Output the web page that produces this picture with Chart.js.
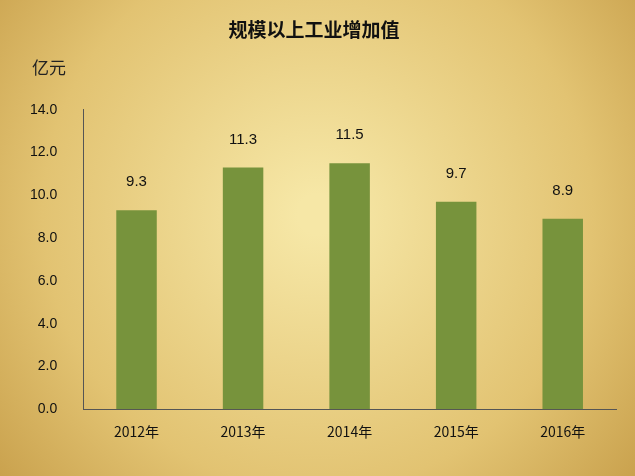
<!DOCTYPE html>
<html><head><meta charset="utf-8">
<script src="https://cdn.jsdelivr.net/npm/chart.js@4"></script>
<style>body{margin:0}canvas{display:block}</style>
</head><body>
<div style="width:635px;height:476px"><canvas id="c"></canvas></div>
<script>
var years = ['2012年', '2013年', '2014年', '2015年', '2016年'];
var values = [9.3, 11.3, 11.5, 9.7, 8.9];

var bgPlugin = {
  id: 'bg',
  beforeDraw: function (chart) {
    var ctx = chart.ctx, w = chart.width, h = chart.height;
    var g = ctx.createRadialGradient(w * 0.5, h * 0.45, 20, w * 0.5, h * 0.45, w * 0.7);
    g.addColorStop(0, '#f6e7a6');
    g.addColorStop(0.6, '#e2c372');
    g.addColorStop(1, '#c49a45');
    ctx.save();
    ctx.fillStyle = g;
    ctx.fillRect(0, 0, w, h);
    ctx.font = '17px "Noto Sans CJK SC"';
    ctx.fillStyle = '#222';
    ctx.fillText('亿元', 32, 74);
    ctx.restore();
  }
};

var labelPlugin = {
  id: 'lbl',
  afterDatasetsDraw: function (chart) {
    var ctx = chart.ctx;
    ctx.save();
    ctx.font = '15px "Liberation Sans"';
    ctx.fillStyle = '#111';
    ctx.textAlign = 'center';
    chart.getDatasetMeta(0).data.forEach(function (bar, i) {
      ctx.fillText(values[i].toFixed(1), bar.x, bar.y - 24);
    });
    ctx.restore();
  }
};

new Chart(document.getElementById('c'), {
  type: 'bar',
  data: {
    labels: years,
    datasets: [{ data: values, backgroundColor: '#77933c', barPercentage: 0.38, categoryPercentage: 1 }]
  },
  options: {
    responsive: true,
    maintainAspectRatio: false,
    animation: false,
    layout: { padding: { left: 12, right: 19, top: 0, bottom: 30 } },
    plugins: {
      legend: { display: false },
      tooltip: { enabled: false },
      title: {
        display: true, text: '规模以上工业增加值', color: '#111',
        font: { size: 19, weight: 'bold', family: '"Noto Sans CJK SC"' },
        padding: { top: 18, bottom: 69 }
      }
    },
    scales: {
      x: {
        grid: { display: false },
        border: { color: '#555' },
        ticks: { color: '#111', font: { size: 14, family: '"Noto Sans CJK SC"' }, padding: 6 }
      },
      y: {
        min: 0, max: 14,
        ticks: { stepSize: 2, color: '#111', padding: 18, font: { size: 14, family: '"Liberation Sans"' },
          callback: function (v) { return v.toFixed(1); } },
        grid: { display: false },
        border: { color: '#555' }
      }
    }
  },
  plugins: [bgPlugin, labelPlugin]
});
</script>
</body></html>
